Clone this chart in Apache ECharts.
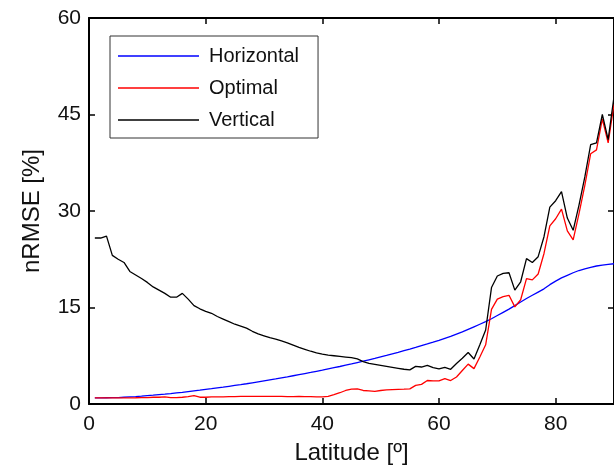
<!DOCTYPE html>
<html>
<head>
<meta charset="utf-8">
<script src="https://cdn.jsdelivr.net/npm/echarts@6/dist/echarts.min.js"></script>
<style>
  html, body { margin: 0; padding: 0; background: #fff; }
  #chart { width: 614px; height: 467px; }
</style>
</head>
<body>
<div id="chart"></div>
<script>
// latitude (deg)
var latitude = [1, 2, 3, 4, 5, 6, 7, 8, 9, 10,
  11, 12, 13, 14, 15, 16, 17, 18, 19, 20,
  21, 22, 23, 24, 25, 26, 27, 28, 29, 30,
  31, 32, 33, 34, 35, 36, 37, 38, 39, 40,
  41, 42, 43, 44, 45, 46, 47, 48, 49, 50,
  51, 52, 53, 54, 55, 56, 57, 58, 59, 60,
  61, 62, 63, 64, 65, 66, 67, 68, 69, 70,
  71, 72, 73, 74, 75, 76, 77, 78, 79, 80,
  81, 82, 83, 84, 85, 86, 87, 88, 89, 90];

// nRMSE [%] per orientation
var horizontal = [0.95, 0.95, 0.97, 0.98, 1.0, 1.05, 1.1, 1.15, 1.22, 1.3,
  1.37, 1.45, 1.53, 1.62, 1.72, 1.82, 1.93, 2.04, 2.15, 2.27,
  2.38, 2.5, 2.62, 2.75, 2.88, 3.01, 3.15, 3.3, 3.45, 3.6,
  3.75, 3.9, 4.06, 4.22, 4.39, 4.56, 4.73, 4.9, 5.08, 5.26,
  5.45, 5.64, 5.83, 6.03, 6.23, 6.44, 6.65, 6.87, 7.09, 7.32,
  7.55, 7.79, 8.03, 8.28, 8.53, 8.79, 9.06, 9.33, 9.61, 9.9,
  10.2, 10.5, 10.85, 11.2, 11.6, 12.0, 12.4, 12.8, 13.25, 13.75,
  14.25, 14.75, 15.3, 15.85, 16.4, 16.9, 17.4, 17.9, 18.55, 19.1,
  19.6, 20.0, 20.4, 20.75, 21.0, 21.25, 21.45, 21.6, 21.7, 21.8];

var optimal = [0.95, 0.95, 0.95, 0.95, 0.95, 0.95, 0.95, 0.97, 1.0, 1.0,
  1.05, 1.05, 1.1, 1.0, 1.0, 1.05, 1.15, 1.3, 1.05, 1.05,
  1.1, 1.1, 1.12, 1.15, 1.15, 1.17, 1.18, 1.2, 1.2, 1.2,
  1.2, 1.18, 1.18, 1.15, 1.15, 1.18, 1.15, 1.15, 1.12, 1.1,
  1.2, 1.45, 1.75, 2.1, 2.3, 2.35, 2.1, 2.05, 1.97, 2.1,
  2.2, 2.25, 2.28, 2.3, 2.35, 2.9, 3.05, 3.65, 3.6, 3.6,
  3.95, 3.65, 4.2, 5.2, 6.2, 5.5, 7.3, 9.2, 14.7, 16.3,
  16.7, 16.9, 15.1, 16.2, 19.5, 19.3, 20.2, 23.4, 27.7, 28.8,
  30.3, 26.9, 25.5, 29.6, 34.0, 38.9, 39.5, 44.3, 40.6, 46.6];

var vertical = [25.8, 25.8, 26.1, 23.1, 22.5, 22.0, 20.6, 20.05, 19.5, 18.9,
  18.2, 17.7, 17.2, 16.6, 16.6, 17.2, 16.3, 15.3, 14.8, 14.4,
  14.1, 13.6, 13.2, 12.8, 12.4, 12.1, 11.8, 11.3, 10.9, 10.6,
  10.3, 10.1, 9.8, 9.5, 9.15, 8.8, 8.5, 8.2, 7.95, 7.75,
  7.6, 7.5, 7.4, 7.3, 7.2, 7.0, 6.6, 6.3, 6.15, 6.0,
  5.85, 5.7, 5.55, 5.4, 5.3, 5.85, 5.75, 6.0, 5.65, 5.45,
  5.7, 5.4, 6.3, 7.1, 8.0, 7.0, 9.2, 11.5, 18.1, 19.9,
  20.3, 20.4, 17.7, 19.0, 22.6, 22.0, 22.9, 26.0, 30.6, 31.6,
  33.0, 28.9, 27.0, 30.9, 35.3, 40.3, 40.6, 45.0, 41.1, 47.8];

var seriesNames = ['Horizontal', 'Optimal', 'Vertical'];
var seriesColors = ['#0000ff', '#ff0000', '#000000'];
var seriesValues = [horizontal, optimal, vertical];

var FONT = 'Liberation Sans, Arial, sans-serif';

function pairs(values) {
  var out = [];
  for (var i = 0; i < latitude.length; i++) {
    out.push([latitude[i], values[i]]);
  }
  return out;
}

var chartObj = echarts.init(document.getElementById('chart'));

var series = [];
for (var s = 0; s < seriesNames.length; s++) {
  series.push({
    name: seriesNames[s],
    type: 'line',
    symbol: 'none',
    data: pairs(seriesValues[s]),
    lineStyle: { color: seriesColors[s], width: 1.3 },
    itemStyle: { color: seriesColors[s] },
    animation: false
  });
}

// box frame with inward ticks on all four sides
var axisLine = { show: true, onZero: false, lineStyle: { color: '#000', width: 2 } };
var axisTick = { show: true, inside: true, length: 6, lineStyle: { color: '#000', width: 1.5 } };

var option = {
  animation: false,
  backgroundColor: '#fff',
  grid: { left: 89, right: 0, top: 18, bottom: 63, outerBoundsMode: 'none', containLabel: false },
  legend: {
    orient: 'vertical',
    left: 110,
    top: 36,
    padding: [10, 19, 8, 8],
    borderColor: '#333',
    borderWidth: 1,
    icon: 'rect',
    itemWidth: 81,
    itemHeight: 1.5,
    itemGap: 12,
    data: seriesNames,
    textStyle: { fontFamily: FONT, fontSize: 20, color: '#111', padding: [0, 0, 0, 5] }
  },
  xAxis: [{
    type: 'value',
    position: 'bottom',
    min: 0, max: 90, interval: 20,
    name: 'Latitude [º]',
    nameLocation: 'middle',
    nameGap: 37,
    nameTextStyle: { fontFamily: FONT, fontSize: 24, color: '#111' },
    axisLine: axisLine,
    axisTick: axisTick,
    axisLabel: { fontFamily: FONT, fontSize: 21, color: '#111', margin: 10, showMaxLabel: false },
    splitLine: { show: false }
  }, {
    type: 'value',
    position: 'top',
    min: 0, max: 90, interval: 20,
    axisLine: axisLine,
    axisTick: axisTick,
    axisLabel: { show: false },
    splitLine: { show: false }
  }],
  yAxis: [{
    type: 'value',
    position: 'left',
    min: 0, max: 60, interval: 15,
    name: 'nRMSE [%]',
    nameLocation: 'middle',
    nameGap: 45,
    nameTextStyle: { fontFamily: FONT, fontSize: 24, color: '#111' },
    axisLine: axisLine,
    axisTick: axisTick,
    axisLabel: { fontFamily: FONT, fontSize: 21, color: '#111', margin: 8 },
    splitLine: { show: false }
  }, {
    type: 'value',
    position: 'right',
    min: 0, max: 60, interval: 15,
    axisLine: axisLine,
    axisTick: axisTick,
    axisLabel: { show: false },
    splitLine: { show: false }
  }],
  series: series
};

chartObj.setOption(option);
</script>
</body>
</html>
